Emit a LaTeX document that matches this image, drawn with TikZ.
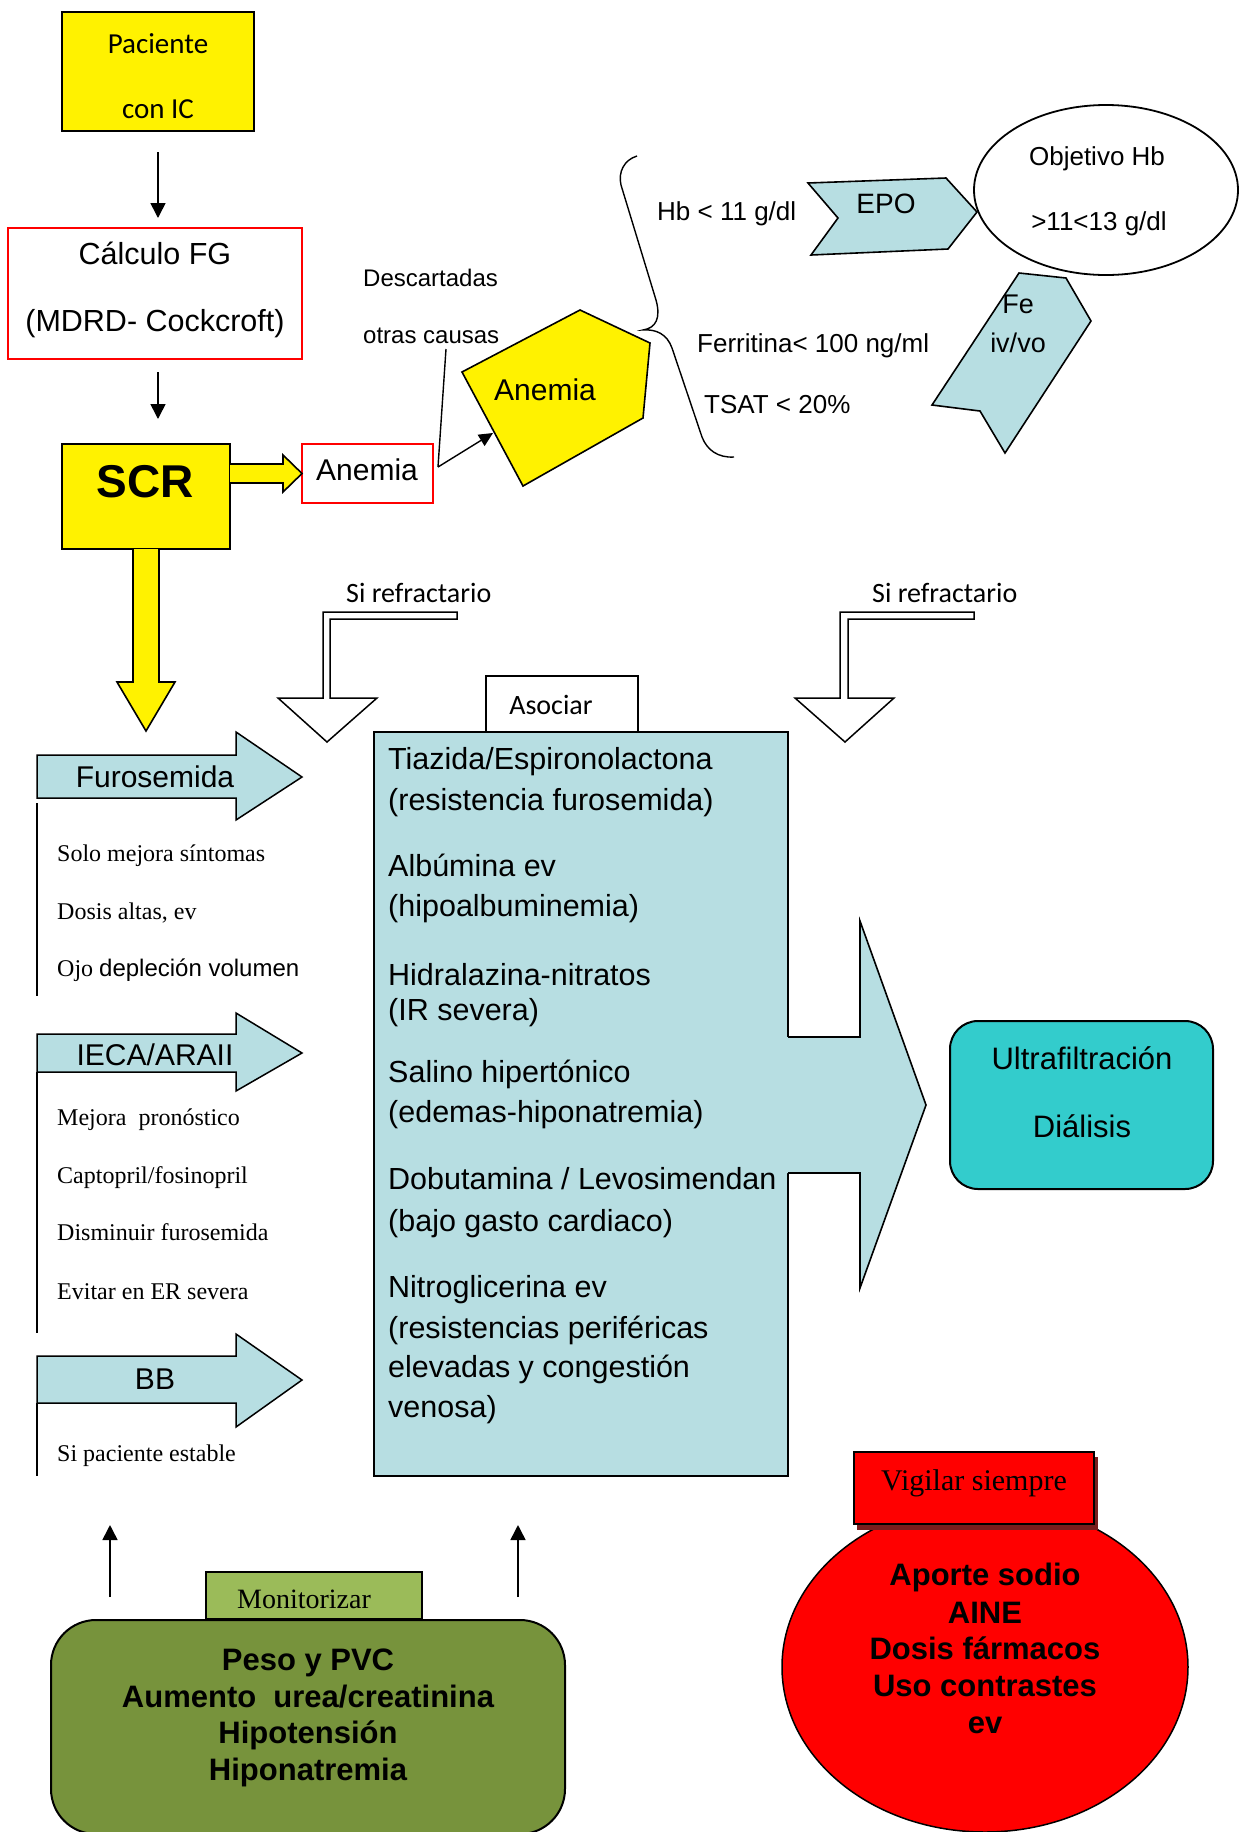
\documentclass[tikz,border=0pt]{standalone}
\usepackage{fontspec}
\setmainfont{Liberation Serif}
\newfontfamily\arialf{Liberation Sans}
\newfontfamily\calibf{Carlito}
\usetikzlibrary{arrows.meta,calc,shapes.geometric}
\definecolor{lblue}{RGB}{183,222,226}
\definecolor{tealb}{RGB}{51,204,204}
\definecolor{dgreen}{RGB}{119,147,60}
\definecolor{lgreen}{RGB}{155,187,89}
\definecolor{shad}{RGB}{120,30,30}
\begin{document}
\begin{tikzpicture}[x=1pt,y=-1pt,
  lbl/.style={inner sep=0pt, anchor=base},
  lblw/.style={inner sep=0pt, anchor=base west},
  fsans/.style={font=\arialf\fontsize{#1}{#1}\selectfont},
  fbold/.style={font=\arialf\bfseries\fontsize{#1}{#1}\selectfont},
  fcal/.style={font=\calibf\fontsize{#1}{#1}\selectfont},
  fser/.style={font=\fontsize{#1}{#1}\selectfont},
  box/.style={draw, line width=2pt, inner sep=0pt, outer sep=0pt},
  arr/.style={-{Triangle[length=15pt,width=15pt]}, line width=1.6pt},
  shp/.style={draw, line width=1.6pt, line join=miter},
]
\fill[white] (0,0) rectangle (1239,1832);
\useasboundingbox (0,0) rectangle (1239,1832);

% ---------- top-left column ----------
\node[box, fill=yellow, minimum width=192, minimum height=119] (pac) at (158,71.5) {};
\node[box, draw=red, line width=1.8pt, minimum width=294, minimum height=131] (calc) at (155,293.5) {};
\node[box, fill=yellow, minimum width=168, minimum height=105] (scr) at (146,496.5) {};
\node[box, draw=red, line width=1.8pt, minimum width=131, minimum height=59] (anb) at (367.5,473.5) {};

\draw[arr, shorten <=21pt, shorten >=10pt] (pac.south) -- (pac.south |- calc.north);
\draw[arr, shorten <=13pt, shorten >=25pt] (calc.south -| pac.south) -- (pac.south |- scr.north);

% yellow block arrows
\draw[shp, fill=yellow] (230,464) -- (283,464) -- (283,455) -- (302,473.5) -- (283,492) -- (283,483) -- (230,483);
\draw[shp, fill=yellow] (133,549) -- (133,682) -- (117,682) -- (146,731) -- (175,682) -- (159,682) -- (159,549);

% anemia pentagon
\coordinate (p1) at (580,310);
\coordinate (p2) at (650,343);
\coordinate (p3) at (643,418);
\coordinate (p4) at (523,486);
\coordinate (p5) at (462,372);
\draw[shp, fill=yellow] (p1) -- (p2) -- (p3) -- (p4) -- (p5) -- cycle;
\coordinate (cA) at (438,467);
\coordinate (cL) at (446,349);
\coordinate (pentE) at (493,433);
\draw[line width=1.4pt] (cL) -- (cA);
\draw[-{Triangle[length=14pt,width=13pt]}, line width=1.4pt] (cA) -- (pentE);

% brace
\draw[line width=1.4pt] (637,156) .. controls (624,160) and (618,172) .. (621,185) -- (656,300)
  .. controls (661,318) and (656,328) .. (643,330)
  .. controls (656,329) and (667,334) .. (672,348) -- (702,437)
  .. controls (707,450) and (718,458) .. (734,457);

% EPO chevron, ellipse, Fe arrow
\draw[shp, fill=lblue] (808,183) -- (946,178) -- (977,212) -- (948,249) -- (811,255) -- (838,218) -- cycle;
\node[draw, ellipse, line width=1.8pt, minimum width=264, minimum height=170, inner sep=0pt] (obj) at (1106,190) {};
\draw[shp, fill=lblue] (1019,273) -- (1066,278) -- (1091,321) -- (1005,453) -- (980,411) -- (932,405) -- cycle;

% ---------- si refractario bent arrows ----------
\draw[line width=1.5pt, line join=miter, fill=white] (457,612) -- (323,612) -- (323,698) -- (278,698) -- (327,742) -- (377,698) -- (330,698) -- (330,619) -- (457,619) -- cycle;
\draw[line width=1.5pt, line join=miter, fill=white] (974,612) -- (840,612) -- (840,698) -- (795,698) -- (845,742) -- (894,698) -- (848,698) -- (848,619) -- (974,619) -- cycle;

% ---------- central box ----------
\node[box, line width=1.6pt, fill=white, minimum width=152, minimum height=56] (asoc) at (562,704) {};
\node[box, fill=lblue, minimum width=414, minimum height=744] (bigbox) at (581,1104) {};
\fill[lblue] (785,1037) -- (860,1037) -- (860,921) -- (926,1105) -- (860,1288) -- (860,1173) -- (785,1173) -- cycle;
\draw[shp] (788,1037) -- (860,1037) -- (860,921) -- (926,1105) -- (860,1288) -- (860,1173) -- (788,1173);

\node[box, fill=tealb, rounded corners=28pt, minimum width=263, minimum height=168] (ultra) at (1081.5,1105) {};

% ---------- left block arrows ----------
\draw[shp, line width=1.5pt, fill=lblue] (37,755) -- (236,755) -- (236,732) -- (302,777) -- (236,820) -- (236,798) -- (37,798) -- cycle;
\draw[line width=1.6pt] (37,803) -- (37,996);
\draw[shp, line width=1.5pt, fill=lblue] (37,1034) -- (236,1034) -- (236,1013) -- (302,1053) -- (236,1091) -- (236,1072) -- (37,1072) -- cycle;
\draw[line width=1.6pt] (37,1072) -- (37,1333);
\draw[shp, line width=1.5pt, fill=lblue] (37,1356) -- (236,1356) -- (236,1334) -- (302,1380) -- (236,1427) -- (236,1403) -- (37,1403) -- cycle;
\draw[line width=1.6pt] (37,1403) -- (37,1476);

% ---------- bottom ----------
\coordinate (u1s) at (110,1597);
\coordinate (u1e) at (110,1525);
\coordinate (u2s) at (518,1597);
\coordinate (u2e) at (518,1525);
\draw[arr] (u1s) -- (u1e);
\draw[arr] (u2s) -- (u2e);

\node[box, fill=dgreen, rounded corners=45pt, minimum width=514, minimum height=214] (green) at (308,1727) {};
\node[box, fill=lgreen, line width=1.8pt, minimum width=216, minimum height=47] (monit) at (314,1595.5) {};

\node[draw, ellipse, fill=red, line width=1.5pt, minimum width=406, minimum height=330, inner sep=0pt] (redell) at (985,1667) {};
\fill[shad] (857,1457) rectangle (1098,1530);
\node[box, fill=red, line width=1.5pt, minimum width=240, minimum height=72] (vig) at (974,1488) {};

% ---------- texts ----------
\node[fcal=29, lbl] (tpac1) at (158,53) {Paciente};
\node[fcal=29, lbl] (tpac2) at (158,118) {con IC};
\node[fsans=30.5, lbl] (tcal1) at (155,264) {Cálculo FG};
\node[fsans=30.5, lbl] (tcal2) at (155,331) {(MDRD- Cockcroft)};
\node[fbold=46, lbl] (tscr) at (145,497) {SCR};
\node[fsans=30, lbl] (tan1) at (367,480) {Anemia};
\node[fsans=24, lblw] (tdesc1) at (363,286) {Descartadas};
\node[fsans=24, lblw] (tdesc2) at (363,343) {otras causas};
\node[fsans=30, lbl] (tan2) at (545,400) {Anemia};
\node[fsans=26, lblw] (thb) at (657,220) {Hb < 11 g/dl};
\node[fsans=26, lblw] (tfer) at (697,352) {Ferritina< 100 ng/ml};
\node[fsans=26, lblw] (ttsat) at (704,413) {TSAT < 20\%};
\node[fsans=28, lbl] (tepo) at (886,213) {EPO};
\node[fsans=26, lbl] (tobj1) at (1097,165) {Objetivo Hb};
\node[fsans=26, lbl] (tobj2) at (1099,230) {>11<13 g/dl};
\node[fsans=27, lbl] (tfe1) at (1018,313) {Fe};
\node[fsans=27, lbl] (tfe2) at (1018,352) {iv/vo};

\node[fcal=28, lblw] (tsr1) at (346,602) {Si refractario};
\node[fcal=28, lblw] (tsr2) at (872,602) {Si refractario};
\node[fcal=28, lbl] (tasoc) at (551,714) {Asociar};

\node[fsans=30, lbl] (tfur) at (155,787) {Furosemida};
\node[fser=24, lblw] (tl1) at (57,861) {Solo mejora síntomas};
\node[fser=24, lblw] (tl2) at (57,919) {Dosis altas, ev};
\node[fser=24, lblw] (tl3) at (57,976) {Ojo {\arialf depleción volumen}};
\node[fsans=30, lbl] (tieca) at (155,1065) {IECA/ARAII};
\node[fser=24, lblw] (tl4) at (57,1125) {Mejora\ \ pronóstico};
\node[fser=24, lblw] (tl5) at (57,1183) {Captopril/fosinopril};
\node[fser=24, lblw] (tl6) at (57,1240) {Disminuir furosemida};
\node[fser=24, lblw] (tl7) at (57,1299) {Evitar en ER severa};
\node[fsans=30, lbl] (tbb) at (155,1389) {BB};
\node[fser=24, lblw] (tl8) at (57,1461) {Si paciente estable};

\node[fsans=30.5, lblw] (b1) at (388,769) {Tiazida/Espironolactona};
\node[fsans=30.5, lblw] (b2) at (388,810) {(resistencia furosemida)};
\node[fsans=30.5, lblw] (b3) at (388,876) {Albúmina ev};
\node[fsans=30.5, lblw] (b4) at (388,916) {(hipoalbuminemia)};
\node[fsans=30.5, lblw] (b5) at (388,985) {Hidralazina-nitratos};
\node[fsans=30.5, lblw] (b6) at (388,1020) {(IR severa)};
\node[fsans=30.5, lblw] (b7) at (388,1082) {Salino hipertónico};
\node[fsans=30.5, lblw] (b8) at (388,1122) {(edemas-hiponatremia)};
\node[fsans=30.5, lblw] (b9) at (388,1189) {Dobutamina / Levosimendan};
\node[fsans=30.5, lblw] (b10) at (388,1231) {(bajo gasto cardiaco)};
\node[fsans=30.5, lblw] (b11) at (388,1297) {Nitroglicerina ev};
\node[fsans=30.5, lblw] (b12) at (388,1338) {(resistencias periféricas};
\node[fsans=30.5, lblw] (b13) at (388,1377) {elevadas y congestión};
\node[fsans=30.5, lblw] (b14) at (388,1417) {venosa)};

\node[fsans=31, lbl] (tu1) at (1082,1069) {Ultrafiltración};
\node[fsans=31, lbl] (tu2) at (1082,1137) {Diálisis};

\node[fser=28, lbl] (tmon) at (304,1608) {Monitorizar};
\node[fbold=31, lbl] (g1) at (308,1670) {Peso y PVC};
\node[fbold=31, lbl] (g2) at (308,1707) {Aumento\ \ urea/creatinina};
\node[fbold=31, lbl] (g3) at (308,1743) {Hipotensión};
\node[fbold=31, lbl] (g4) at (308,1780) {Hiponatremia};

\node[fser=30, lbl] (tvig) at (974,1490) {Vigilar siempre};
\node[fbold=31, lbl] (r1) at (985,1585) {Aporte sodio};
\node[fbold=31, lbl] (r2) at (985,1623) {AINE};
\node[fbold=31, lbl] (r3) at (985,1659) {Dosis fármacos};
\node[fbold=31, lbl] (r4) at (985,1696) {Uso contrastes};
\node[fbold=31, lbl] (r5) at (985,1733) {ev};
\end{tikzpicture}
\end{document}
